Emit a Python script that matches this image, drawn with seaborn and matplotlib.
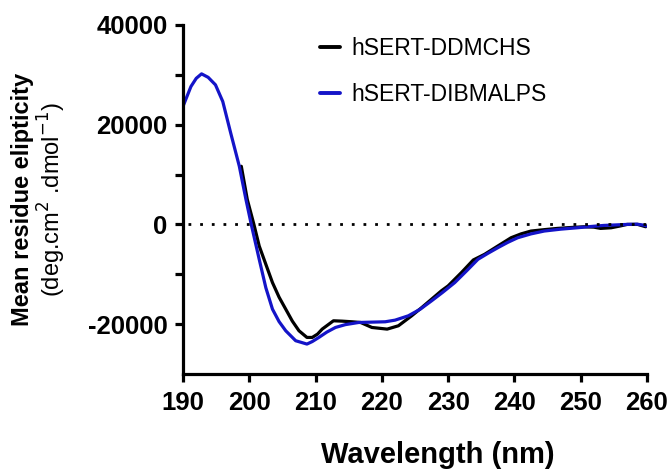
import numpy as np
import pandas as pd
import seaborn as sns
import matplotlib.pyplot as plt

# wavelength (nm) and mean residue ellipticity
wl_ddm = [198.8, 199.7, 200.7, 201.5, 202.5, 203.5, 204.5, 205.5, 206.5, 207.5, 208.7,
          209.5, 210.3, 211.0, 212.7, 214.0, 215.5, 216.8, 218.5, 220.8, 222.5, 224.5,
          226.0, 227.5, 229.0, 230.0, 232.0, 233.8, 235.5, 237.5, 239.5, 241.0, 242.5,
          244.5, 246.5, 248.5, 250.5, 252.0, 253.0, 254.6, 256.0, 257.0, 258.6, 259.8]
mre_ddm = [11660, 5000, 0, -4330, -8000, -11670, -14600, -17000, -19400, -21330, -22670,
           -22670, -22000, -21000, -19330, -19400, -19530, -19670, -20670, -21000, -20330, -18330,
           -16700, -15000, -13300, -12330, -9670, -7130, -6000, -4330, -2670, -1900, -1330,
           -1050, -800, -620, -470, -550, -800, -670, -300, 0, 0, -470]

wl_dib = [190.0, 191.2, 192.0, 192.8, 193.8, 194.9, 196.0, 197.2, 198.5, 199.5, 200.3,
          201.5, 202.5, 203.5, 204.5, 205.5, 207.0, 208.7, 209.5, 210.5, 211.7, 213.0,
          214.5, 216.5, 218.5, 220.5, 222.0, 224.0, 225.8, 227.5, 229.2, 231.0, 232.8,
          234.5, 236.0, 237.5, 239.0, 240.5, 242.5, 244.5, 247.0, 249.5, 251.5, 253.5,
          255.0, 257.0, 258.5, 259.5, 260.0]
mre_dib = [23660, 27660, 29300, 30200, 29500, 28000, 24660, 18330, 11660, 5000, 0,
           -7000, -12700, -17000, -19500, -21330, -23330, -24000, -23500, -22670, -21600, -20670,
           -20100, -19670, -19600, -19530, -19200, -18330, -17000, -15330, -13600, -11670, -9300,
           -7000, -5800, -4670, -3600, -2670, -1900, -1330, -950, -670, -420, -200,
           -120, 0, 50, -150, -330]

labels = ['hSERT-DDMCHS', 'hSERT-DIBMALPS']
colors = ['#000000', '#1414c8']
yticks = [-20000, 0, 20000, 40000]
ytick_labels = ['-20000', '0', '20000', '40000']

df = pd.concat([
    pd.DataFrame({'Wavelength': wl_ddm, 'MRE': mre_ddm, 'Sample': labels[0]}),
    pd.DataFrame({'Wavelength': wl_dib, 'MRE': mre_dib, 'Sample': labels[1]}),
])

sns.set_style('ticks')
plt.rcParams['font.family'] = ['Liberation Sans', 'DejaVu Sans']
plt.rcParams['text.color'] = 'black'
plt.rcParams['xtick.color'] = 'black'
plt.rcParams['ytick.color'] = 'black'
plt.rcParams['axes.edgecolor'] = 'black'

fig = plt.figure(figsize=(6.71, 4.69), dpi=100)
ax = fig.add_axes([0.2727, 0.2026, 0.6915, 0.7441])

sns.lineplot(data=df, x='Wavelength', y='MRE', hue='Sample', palette=colors,
             hue_order=labels, linewidth=2.3, ax=ax, sort=False)

# zero reference line
ax.axhline(0, xmin=0.01, xmax=1, color='black', linestyle=(0, (1, 3.2)), linewidth=2.0)

ax.set_xlim(190, 260)
ax.set_ylim(-30000, 40000)
ax.set_xticks(range(190, 261, 10))
ax.set_yticks(yticks)
ax.set_yticklabels(ytick_labels)
ax.set_yticks([-10000, 10000, 30000], minor=True)

sns.despine(ax=ax)
for s in ['left', 'bottom']:
    ax.spines[s].set_linewidth(2.3)
ax.tick_params(which='both', width=2.3, length=6, labelsize=18.5, pad=5)
ax.tick_params(axis='x', pad=6)
for t in ax.get_xticklabels() + ax.get_yticklabels():
    t.set_fontweight('bold')

ax.set_xlabel('')
ax.set_ylabel('')
fig.text(0.653, 0.03, 'Wavelength (nm)', ha='center', va='center',
         fontsize=21, fontweight='bold')
fig.text(0.033, 0.574, 'Mean residue elipticity', rotation=90, ha='center', va='center',
         fontsize=17, fontweight='bold')
fig.text(0.078, 0.574, '(deg.cm$^2$ .dmol$^{-1}$)', rotation=90, ha='center', va='center',
         fontsize=17)

leg = ax.legend(loc='upper left', bbox_to_anchor=(0.295, 0.965), frameon=False,
                fontsize=16.5, handlelength=0.87, handletextpad=0.5, labelspacing=1.0,
                borderpad=0, borderaxespad=0)
for line in leg.get_lines():
    line.set_linewidth(2.8)

plt.savefig('out.png', dpi=100)
